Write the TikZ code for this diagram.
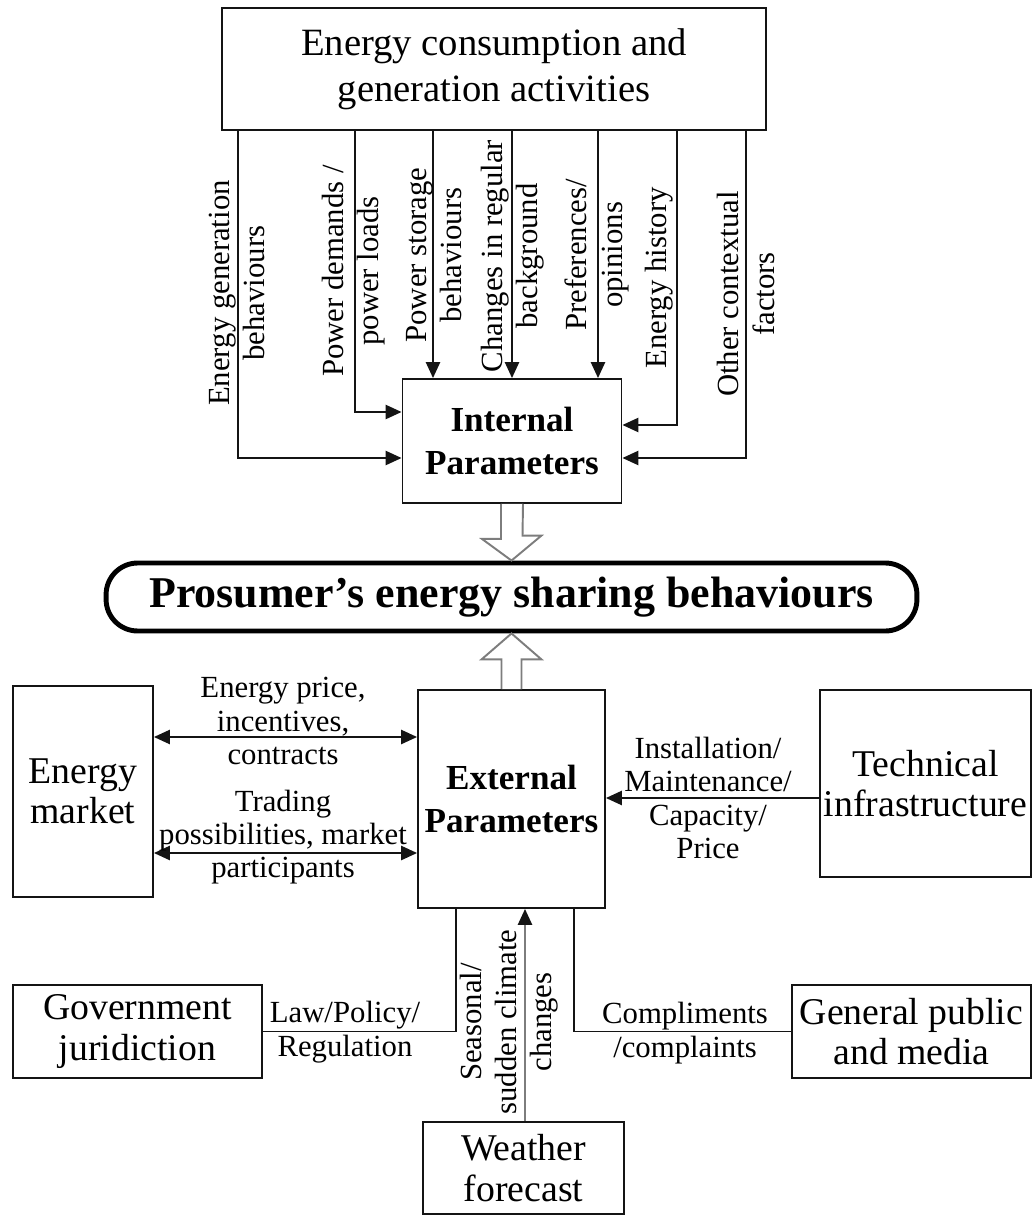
\documentclass[tikz,border=0pt]{standalone}
\usepackage{fontspec}
\setmainfont{Liberation Serif}
\usepackage{tikz}
\usetikzlibrary{arrows.meta,positioning,calc}
\definecolor{trait}{HTML}{141414}
\definecolor{grisF}{RGB}{125,125,125}
\tikzset{
  boite/.style={rectangle, draw=trait, line width=1.1pt, align=center, inner sep=1pt,
                font=\fontsize{21.5}{23}\selectfont},
  param/.style={boite, font=\fontsize{20}{24}\selectfont\bfseries},
  lab/.style={align=center, inner sep=1pt, font=\fontsize{17.5}{19}\selectfont},
  vlab/.style={lab, rotate=90, font=\fontsize{17.5}{20}\selectfont},
  arr/.style={-{Triangle[length=9pt,width=8pt]}, line width=1.1pt, draw=trait},
  darr/.style={{Triangle[length=9pt,width=8pt]}-{Triangle[length=9pt,width=8pt]}, line width=1.1pt, draw=trait},
  garr/.style={-{Triangle[length=9pt,width=8pt,color=trait]}, line width=1.1pt, draw=grisF},
  lien/.style={line width=1.1pt, draw=trait},
  creux/.style={draw=grisF, line width=1.1pt, fill=white, line join=miter},
}
\begin{document}
\begin{tikzpicture}[x=0.02cm, y=-0.02cm]
    \useasboundingbox (0,0) rectangle (1033,1216);
    \node[boite, minimum width=10.88cm, minimum height=2.44cm, font=\fontsize{22}{26}\selectfont] (act) at (494,69) {Energy consumption and\\generation activities};
    \node[param, minimum width=4.38cm, minimum height=2.48cm] (int) at (512,441) {Internal\\Parameters};
    \node[boite, draw=black, line width=2.8pt, rounded corners=18pt, minimum width=16.22cm, minimum height=1.36cm, font=\fontsize{25}{28}\selectfont\bfseries] (pros) at (511.5,597) {Prosumer's energy sharing behaviours};
    \node[param, minimum width=3.74cm, minimum height=4.36cm] (ext) at (511.5,799) {External\\Parameters};
    \node[boite, minimum width=2.8cm, minimum height=4.22cm] (mkt) at (83,791.5) {Energy\\market};
    \node[boite, minimum width=4.22cm, minimum height=3.74cm] (tech) at (925.5,783.5) {Technical\\infrastructure};
    \node[boite, minimum width=4.98cm, minimum height=1.86cm] (gov) at (137.5,1031.5) {Government\\juridiction};
    \node[boite, minimum width=4.78cm, minimum height=1.86cm] (pub) at (911.5,1031.5) {General public\\and media};
    \node[boite, minimum width=4.02cm, minimum height=1.84cm] (wea) at (523.5,1168) {Weather\\forecast};

    \draw[arr] (act.south -| 238,0) |- (int.west |- 0,458);
    \draw[arr] (act.south -| 355,0) |- (int.west |- 0,412);
    \draw[arr] (act.south -| 433,0) -- (int.north -| 433,0);
    \draw[arr] (act.south -| 512,0) -- (int.north -| 512,0);
    \draw[arr] (act.south -| 598,0) -- (int.north -| 598,0);
    \draw[arr] (act.south -| 677,0) |- (int.east |- 0,425);
    \draw[arr] (act.south -| 746,0) |- (int.east |- 0,458);
    \node[vlab] (gen) at (237,293) {Energy generation\\behaviours};
    \node[vlab] (dem) at (354,271) {Power demands /\\power loads};
    \node[vlab] (sto) at (434,255) {Power storage\\behaviours};
    \node[vlab] (chg) at (513,256) {Changes in regular\\background};
    \node[vlab] (pref) at (597,255) {Preferences/\\opinions};
    \node[vlab] (hist) at (659,278) {Energy history};
    \node[vlab] (ctx) at (746,294) {Other contextual\\factors};

    \draw[creux] ($(int.south)+(-11,0)$) -- ++(0,35) -- ++(-19,0) -- (pros.north) -- ($(pros.north)+(30,-25)$) -- ++(-19,0) -- ($(int.south)+(11,0)$);
    \draw[creux] ($(ext.north)+(-10,0)$) -- ($(pros.south)+(-10,26)$) -- ++(-20,0) -- (pros.south) -- ($(pros.south)+(30,26)$) -- ++(-20,0) -- ($(ext.north)+(10,0)$);

    \draw[darr] (mkt.east |- 0,737) -- (ext.west |- 0,737);
    \draw[darr] (mkt.east |- 0,853) -- (ext.west |- 0,853);
    \node[lab] (prix) at (283,721) {Energy price,\\incentives,\\contracts};
    \node[lab] (trade) at (283,837) {Trading\\possibilities, market\\participants};
    \draw[arr] (tech.west |- 0,798) -- (ext.east |- 0,798);
    \node[lab] (inst) at (708,798) {Installation/\\Maintenance/\\Capacity/\\Price};

    \draw[lien] (ext.south -| 456,0) |- (gov.east);
    \draw[lien] (ext.south -| 574,0) |- (pub.west);
    \draw[garr] (wea.north -| 525,0) -- (ext.south -| 525,0);
    \node[lab] (loi) at (345,1032) {Law/Policy/\\Regulation};
    \node[lab] (avis) at (685,1033) {Compliments\\/complaints};
    \node[vlab] (meteo) at (509,1022) {Seasonal/\\sudden climate\\changes};
  \end{tikzpicture}
\end{document}
